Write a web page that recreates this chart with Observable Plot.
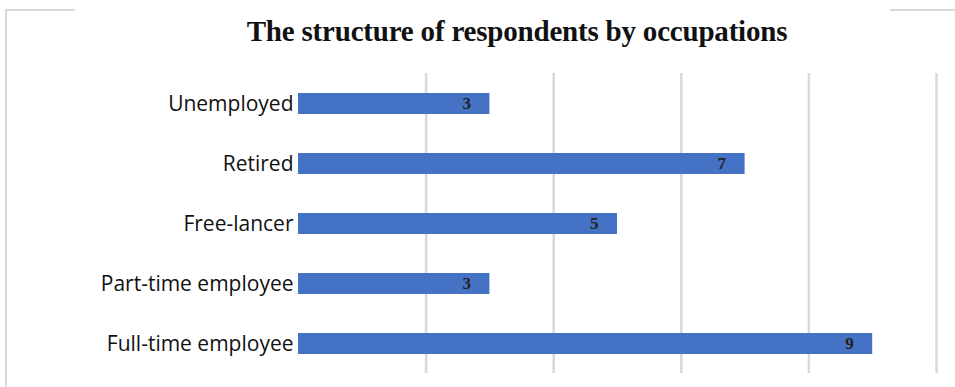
<!DOCTYPE html>
<html>
<head>
<meta charset="utf-8">
<script src="https://cdn.jsdelivr.net/npm/d3@7"></script>
<script src="https://cdn.jsdelivr.net/npm/@observablehq/plot@0.6"></script>
<style>
  html, body { margin: 0; padding: 0; background: #fff; }
  #wrap { position: relative; width: 955px; height: 387px; overflow: hidden; }
  #frame { position: absolute; left: 5px; top: 9px; width: 1000px; height: 500px;
           border-left: 2px solid #d9d9d9; border-top: 2px solid #d9d9d9; box-sizing: border-box; }
  #title { position: absolute; left: 75px; width: 815px; top: 0; height: 60px; background: #fff;
           font-family: "Liberation Serif", "DejaVu Serif", serif; font-weight: bold; font-size: 29px;
           color: #111; text-align: center; line-height: 62px; padding-left: 69px; box-sizing: border-box;
           letter-spacing: -0.2px; }
  #chart { position: absolute; left: 0; top: 60px; }
</style>
</head>
<body>
<div id="wrap">
  <div id="frame"></div>
  <div id="title">The structure of respondents by occupations</div>
  <div id="chart"></div>
</div>
<script>
const categories = ["Unemployed", "Retired", "Free-lancer", "Part-time employee", "Full-time employee"];
const counts = [3, 7, 5, 3, 9];
const gridValues = [2, 4, 6, 8, 10];

const data = categories.map((c, i) => ({category: c, count: counts[i]}));

const chart = Plot.plot({
  width: 955,
  height: 327,
  marginLeft: 298,
  marginRight: 19,
  marginTop: 13,
  marginBottom: 14,
  x: {domain: [0, 10], axis: null},
  y: {domain: categories, paddingInner: 0.65, paddingOuter: 0.325, label: null},
  style: {fontFamily: "'Open Sans', sans-serif", fontSize: "21px", color: "#111", background: "transparent"},
  marks: [
    Plot.ruleX(gridValues, {stroke: "#d9d9d9", strokeWidth: 2.5}),
    Plot.barX(data, {x: "count", y: "category", fill: "#4472c4"}),
    Plot.text(data, {x: "count", y: "category", text: d => String(d.count), textAnchor: "end", dx: -19,
      fill: "#222", fontWeight: "bold", fontSize: 17, fontFamily: "'Liberation Serif', serif"}),
    Plot.axisY({tickSize: 0, tickPadding: 5, fontSize: 21, label: null})
  ]
});
document.getElementById("chart").appendChild(chart);
</script>
</body>
</html>
